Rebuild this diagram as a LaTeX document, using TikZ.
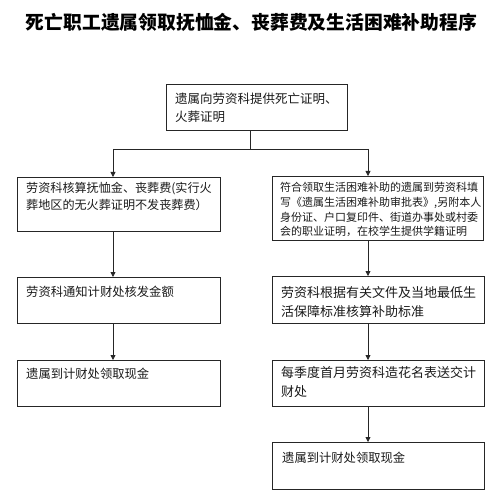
\documentclass[tikz,border=0pt]{standalone}
\usepackage{fontspec}
\setmainfont{Noto Sans CJK SC}
\usetikzlibrary{arrows.meta}
\newcommand\setfs[2]{\fontsize{#1}{#2}\selectfont}
\begin{document}
\begin{tikzpicture}[x=1pt,y=-1pt,
  box/.style={draw=black!85, line width=0.8pt, rectangle, inner sep=0pt, anchor=north west},
  txt/.style={anchor=north west, inner sep=0pt, align=left, text=black!90},
  link/.style={draw=black!85, line width=0.8pt},
  arr/.style={link, -{Triangle[length=5pt,width=5pt]}}]
\useasboundingbox (0,0) rectangle (500,497);
% title
\node[inner sep=0pt, font=\bfseries\setfs{18.8}{22}] (title) at (251.5,22) {死亡职工遗属领取抚恤金、丧葬费及生活困难补助程序};
% top box
\node[box, minimum width=181pt, minimum height=46pt] (top) at (166,84) {};
\node[txt, font=\setfs{12.5}{18}] (ttop) at (175,92.8) {遗属向劳资科提供死亡证明、\\火葬证明};
% left column
\node[box, minimum width=203pt, minimum height=54pt] (l1) at (17,177) {};
\node[txt, font=\setfs{12.1}{17}] (tl1) at (26,182) {劳资科核算抚恤金、丧葬费(实行火\\葬地区的无火葬证明不发丧葬费）};
\node[box, minimum width=203pt, minimum height=46pt] (l2) at (17,277) {};
\node[txt, font=\setfs{12.3}{17}] (tl2) at (26,286) {劳资科通知计财处核发金额};
\node[box, minimum width=203pt, minimum height=46pt] (l3) at (17,360) {};
\node[txt, font=\setfs{12.3}{17}] (tl3) at (26,368) {遗属到计财处领取现金};
% right column
\node[box, minimum width=211pt, minimum height=64pt] (r1) at (272,176) {};
\node[txt, font=\setfs{11}{14.6}] (tr1) at (280,182.5) {符合领取生活困难补助的遗属到劳资科填\\写《遗属生活困难补助审批表》,另附本人\\身份证、户口复印件、街道办事处或村委\\会的职业证明，在校学生提供学籍证明};
\node[box, minimum width=212pt, minimum height=47pt] (r2) at (272,276) {};
\node[txt, font=\setfs{13}{19}] (tr2) at (281,286.5) {劳资科根据有关文件及当地最低生\\活保障标准核算补助标准};
\node[box, minimum width=212pt, minimum height=46pt] (r3) at (272,360) {};
\node[txt, font=\setfs{13}{19}] (tr3) at (281,366.5) {每季度首月劳资科造花名表送交计\\财处};
\node[box, minimum width=212pt, minimum height=47pt] (r4) at (272,442) {};
\node[txt, font=\setfs{12.3}{17}] (tr4) at (282,452) {遗属到计财处领取现金};
% connectors
\coordinate (j) at (250,149);
\coordinate (jl) at (113,149);
\coordinate (jr) at (368,149);
\draw[link] (j |- top.south) -- (j);
\draw[link] (jl) -- (jr);
\draw[arr] (jl) -- (jl |- l1.north);
\draw[arr] (jr) -- (jr |- r1.north);
\draw[arr] (jl |- l1.south) -- (jl |- l2.north);
\draw[arr] (jl |- l2.south) -- (jl |- l3.north);
\draw[arr] (jr |- r1.south) -- (jr |- r2.north);
\draw[arr] (jr |- r2.south) -- (jr |- r3.north);
\draw[arr] (jr |- r3.south) -- (jr |- r4.north);
\end{tikzpicture}
\end{document}
